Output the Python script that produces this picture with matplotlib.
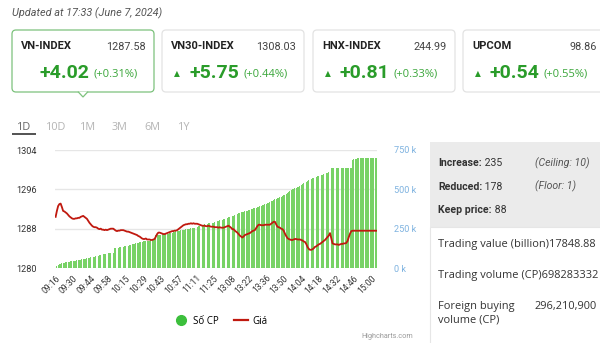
import matplotlib.pyplot as plt
from matplotlib.patches import FancyBboxPatch, Rectangle, Polygon
from matplotlib.lines import Line2D

plt.rcParams['font.family'] = ['Roboto', 'DejaVu Sans']

# ---- data ----
updated = 'Updated at 17:33 (June 7, 2024)'
idx_names = ['VN-INDEX', 'VN30-INDEX', 'HNX-INDEX', 'UPCOM']
idx_values = ['1287.58', '1308.03', '244.99', '98.86']
idx_change = ['+4.02', '+5.75', '+0.81', '+0.54']
idx_pct = ['(+0.31%)', '(+0.44%)', '(+0.33%)', '(+0.55%)']
tabs = ['1D', '10D', '1M', '3M', '6M', '1Y']

time_labels = ['09:16', '09:30', '09:44', '09:58', '10:15', '10:29', '10:43',
               '10:57', '11:11', '11:25', '13:08', '13:22', '13:36', '13:50',
               '14:04', '14:18', '14:32', '14:46', '15:00']

# cumulative volume (thousand shares), one value per minute
volume = [
    3, 13, 19, 24, 28, 30, 32, 34, 35, 36, 38, 40, 42, 43,
    44, 45, 47, 48, 50, 51, 53, 55, 57, 59, 60, 61, 63, 65,
    68, 70, 72, 73, 75, 77, 79, 81, 83, 85, 87, 89, 91, 93,
    94, 95, 96, 97, 98, 125, 126, 128, 129, 131, 133, 134, 136, 138,
    139, 140, 142, 145, 148, 150, 152, 155, 157, 160, 162, 165, 166, 168,
    169, 170, 171, 172, 173, 174, 175, 175, 176, 180, 210, 211, 211, 212,
    212, 213, 213, 214, 215, 216, 218, 220, 222, 225, 228, 230, 233, 235,
    236, 238, 239, 240, 241, 243, 245, 247, 248, 250, 252, 253, 255, 257,
    259, 262, 265, 268, 270, 273, 275, 278, 280, 282, 283, 285, 286, 288,
    288, 291, 294, 297, 300, 303, 305, 307, 309, 312, 315, 318, 321, 325,
    328, 331, 331, 335, 339, 343, 347, 350, 353, 355, 358, 360, 362, 364,
    367, 370, 373, 376, 379, 381, 384, 387, 389, 392, 395, 398, 402, 406,
    409, 411, 415, 419, 423, 428, 432, 436, 439, 443, 446, 450, 454, 458,
    462, 466, 470, 475, 481, 488, 494, 500, 503, 507, 510, 513, 517, 520,
    526, 532, 538, 543, 549, 553, 557, 561, 566, 570, 573, 576, 580, 583,
    585, 587, 590, 593, 596, 599, 602, 604, 610, 636, 636, 636, 636, 636,
    636, 636, 636, 636, 636, 636, 636, 636, 636, 636, 636, 636, 636, 686,
    690, 693, 695, 696, 697, 697, 697, 698, 698, 698, 698, 698, 698, 698,
    698, 698, 698, 698, 698,
]

price = [
    1290.4, 1291.6, 1292.6, 1293.0, 1293.1, 1292.4, 1291.6, 1291.5, 1291.3, 1291.1, 1290.8, 1290.5, 1290.3, 1290.1,
    1290.0, 1290.0, 1290.1, 1290.1, 1290.2, 1290.2, 1290.4, 1290.5, 1290.6, 1290.4, 1290.2, 1290.0, 1289.6, 1289.2,
    1288.9, 1288.6, 1288.4, 1288.3, 1288.3, 1288.2, 1288.0, 1287.9, 1288.0, 1287.8, 1287.8, 1287.7, 1287.8, 1287.7,
    1287.8, 1287.9, 1288.0, 1288.0, 1288.0, 1287.8, 1287.6, 1287.5, 1287.6, 1287.6, 1287.7, 1287.7, 1287.7, 1287.6,
    1287.5, 1287.4, 1287.4, 1287.3, 1287.2, 1287.1, 1287.0, 1286.9, 1286.8, 1286.7, 1286.5, 1286.4, 1286.2, 1286.0,
    1285.9, 1285.9, 1286.0, 1285.8, 1285.8, 1285.8, 1285.7, 1285.7, 1285.8, 1285.9, 1286.4, 1286.9, 1287.2, 1287.2,
    1287.1, 1287.0, 1286.9, 1286.9, 1287.0, 1287.1, 1287.2, 1287.3, 1287.4, 1287.5, 1287.5, 1287.6, 1287.6, 1287.7,
    1287.9, 1288.1, 1288.3, 1288.5, 1288.7, 1288.8, 1288.9, 1288.9, 1289.0, 1289.0, 1289.1, 1289.0, 1289.1, 1289.0,
    1289.0, 1289.0, 1288.9, 1288.8, 1288.7, 1288.6, 1288.6, 1288.6, 1288.5, 1288.5, 1288.6, 1288.5, 1288.4, 1288.4,
    1288.4, 1288.3, 1288.3, 1288.3, 1288.2, 1288.3, 1288.2, 1288.2, 1288.2, 1288.3, 1288.4, 1288.5, 1288.6, 1288.4,
    1288.2, 1287.9, 1287.9, 1287.6, 1287.4, 1287.2, 1286.9, 1286.6, 1286.4, 1286.2, 1286.4, 1286.7, 1286.8, 1286.9,
    1287.0, 1287.1, 1287.3, 1287.5, 1287.6, 1287.7, 1288.1, 1288.5, 1288.8, 1288.8, 1288.7, 1288.7, 1288.7, 1288.8,
    1288.8, 1288.8, 1288.8, 1288.8, 1289.0, 1289.2, 1289.4, 1289.4, 1288.9, 1288.4, 1288.3, 1288.2, 1288.0, 1287.9,
    1287.6, 1287.0, 1286.5, 1286.1, 1285.9, 1285.8, 1285.7, 1285.7, 1285.8, 1285.9, 1285.9, 1285.8, 1285.8, 1285.8,
    1285.7, 1285.6, 1285.4, 1285.3, 1284.9, 1284.3, 1283.9, 1283.7, 1283.7, 1283.8, 1284.0, 1284.3, 1284.4, 1284.6,
    1284.8, 1284.9, 1285.1, 1285.3, 1285.5, 1285.7, 1286.0, 1286.3, 1286.6, 1287.1, 1286.0, 1285.0, 1284.9, 1284.8,
    1284.8, 1284.8, 1284.7, 1284.8, 1284.9, 1284.9, 1285.0, 1285.0, 1285.1, 1285.5, 1286.3, 1287.0, 1287.5, 1287.58,
    1287.58, 1287.58, 1287.58, 1287.58, 1287.58, 1287.58, 1287.58, 1287.58, 1287.58, 1287.58, 1287.58, 1287.58, 1287.58, 1287.58,
    1287.58, 1287.58, 1287.58, 1287.58, 1287.58,
]

breadth = [('Increase:', '235', '(Ceiling: 10)'),
           ('Reduced:', '178', '(Floor: 1)'),
           ('Keep price:', '88', '')]
trading_value = '17848.88'
trading_volume = '698283332'
foreign_buy = '296,210,900'

GREEN = '#2a9c2a'
BAR_GREEN = '#78d266'
RED = '#c0190f'
BODY_FONT = ['Open Sans', 'DejaVu Sans']

fig = plt.figure(figsize=(6, 3.43), dpi=100)

# background layer in pixel coordinates
bg = fig.add_axes([0, 0, 1, 1])
bg.set_xlim(0, 600)
bg.set_ylim(343, 0)
bg.axis('off')

bg.text(12, 13, updated, fontsize=7.8, style='italic', color='#555555', va='center')

# index cards
card_x = [12, 162, 313, 463]
for k, x0 in enumerate(card_x):
    sel = k == 0
    edge = '#7cc27c' if sel else '#e3e3e3'
    bg.add_patch(FancyBboxPatch((x0, 30), 142, 62, boxstyle='round,pad=0,rounding_size=4',
                                fc='white', ec=edge, lw=0.9))
    if sel:
        bg.add_patch(Polygon([(x0 + 66, 91.6), (x0 + 71, 97), (x0 + 76, 91.6)],
                             closed=False, fc='white', ec=edge, lw=0.9, zorder=3))
    bg.text(x0 + 9, 46, idx_names[k], fontsize=8, fontweight='bold', color='#222222', va='center')
    bg.text(x0 + 134, 47, idx_values[k], fontsize=7.8, color='#444444', va='center', ha='right')
    if not sel:
        bg.text(x0 + 15, 74, '\u25b2', fontsize=5.5, color=GREEN, va='center', ha='center',
                family=['DejaVu Sans'])
    bg.text(x0 + 27, 73, idx_change[k], fontsize=14, fontweight='bold', color=GREEN, va='center')
    bg.text(x0 + 81, 74.5, idx_pct[k], fontsize=8, color='#3aa63a', va='center', family=BODY_FONT)

# period tabs
tab_x = [24, 56, 88, 120, 152, 184]
for k, t in enumerate(tabs):
    bg.text(tab_x[k], 127, t, fontsize=7.8, color='#666666' if k == 0 else '#b4b4b4',
            ha='center', va='center', family=BODY_FONT)
bg.plot([12, 36], [133.5, 133.5], color='#444444', lw=1.3, solid_capstyle='butt')

# right info panel
bg.add_patch(Rectangle((430, 142), 172, 85, fc='#ebebeb', ec='none'))
bg.add_patch(Rectangle((430, 227), 172, 120, fc='white', ec='#e6e6e6', lw=0.8))
for k, (lab, val, note) in enumerate(breadth):
    yy = 163 + k * 23.5
    t = bg.text(438, yy, lab, fontsize=7.6, fontweight='bold', color='#333333', va='center')
    bg.annotate(' ' + val, xycoords=t, xy=(1, 0.5), va='center', fontsize=7.6, color='#333333')
    if note:
        bg.text(535, yy, note, fontsize=7.6, style='italic', color='#555555', va='center')

body = dict(fontsize=7.9, color='#333333', va='center', family=BODY_FONT)
bg.text(438, 245, 'Trading value (billion)' + trading_value, **body)
bg.text(438, 275.5, 'Trading volume (CP)' + trading_volume, **body)
bg.text(438, 306.5, 'Foreign buying', **body)
bg.text(438, 320.5, 'volume (CP)', **body)
bg.text(597, 306.5, foreign_buy, ha='right', **body)

# ---- chart ----
n = len(volume)
ax_v = fig.add_axes([55 / 600, 1 - 268 / 343, 322 / 600, 118 / 343])
ax_p = ax_v.twinx()

ax_v.bar(range(n), volume, width=0.72, color=BAR_GREEN, lw=0)
ax_v.set_xlim(-0.5, n - 0.5)
ax_v.set_ylim(0, 750)
ax_v.set_yticks([0, 250, 500, 750])
ax_v.set_yticklabels(['0 k', '250 k', '500 k', '750 k'])
ax_v.yaxis.tick_right()
ax_v.tick_params(axis='y', length=0, pad=12, labelsize=6.6, labelcolor='#7fb3e0')
ax_v.grid(axis='y', color='#e6e6e6', lw=1)
ax_v.set_axisbelow(True)
ax_v.set_xticks(range(0, 14 * (len(time_labels) - 1) + 1, 14))
ax_v.set_xticklabels(time_labels, rotation=45, ha='right', va='top', rotation_mode='anchor',
                     fontsize=6.2, color='#333333')
ax_v.tick_params(axis='x', length=0, pad=4)
for s in ax_v.spines.values():
    s.set_visible(False)

ax_p.plot(range(n), price, color=RED, lw=1.3)
ax_p.set_ylim(1280, 1304)
ax_p.set_yticks([1280, 1288, 1296, 1304])
ax_p.yaxis.tick_left()
ax_p.tick_params(axis='y', length=0, pad=13, labelsize=6.6, labelcolor='#333333')
for s in ax_p.spines.values():
    s.set_visible(False)

handles = [Line2D([], [], marker='o', ls='', color='#3cbf3c', markersize=7),
           Line2D([], [], color=RED, lw=1.6)]
fig.legend(handles, ['Số CP', 'Giá'], loc='center', bbox_to_anchor=(221 / 600, 1 - 321 / 343),
           ncol=2, frameon=False, handlelength=1.4, columnspacing=1.6,
           handletextpad=0.5, prop={'family': BODY_FONT, 'size': 7})
bg.text(413, 337, 'Highcharts.com', fontsize=5.2, color='#999999', ha='right', va='center')

fig.savefig('out.png', dpi=100)
